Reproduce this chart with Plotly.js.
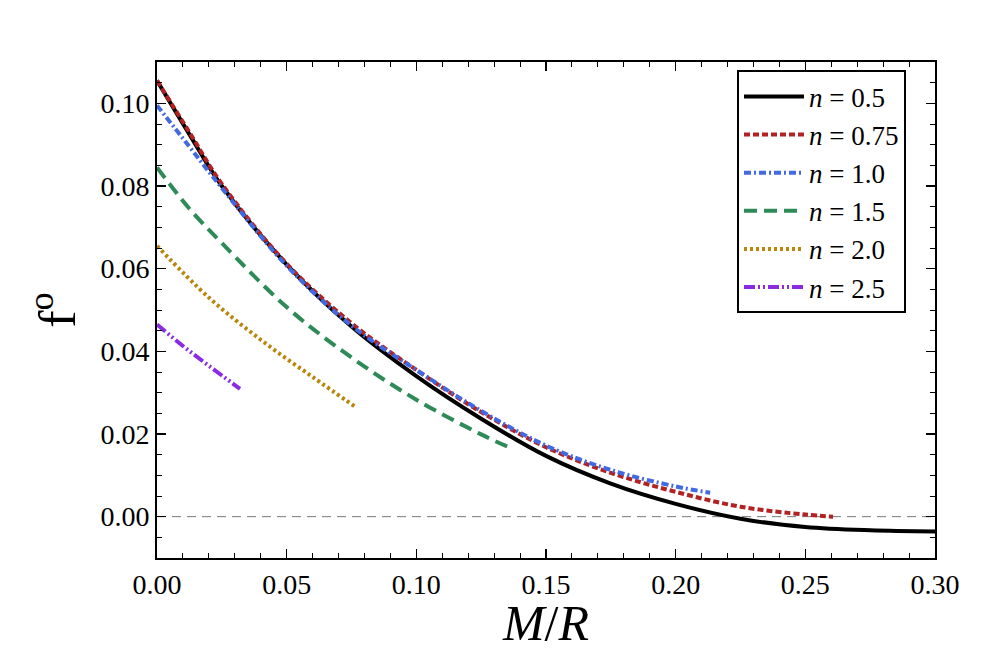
<!DOCTYPE html>
<html>
<head>
<meta charset="utf-8">
<script src="https://cdn.plot.ly/plotly-3.0.1.min.js"></script>
<style>
  html, body { margin: 0; padding: 0; background: #fff; }
  #chart { width: 1005px; height: 651px; }
</style>
</head>
<body>
<div id="chart"></div>
<script>
// Compactness M/R versus f° for several polytropic indices n
const x_n050 = [0, 0.0125, 0.025, 0.05, 0.075, 0.10, 0.125, 0.15, 0.175, 0.20, 0.225, 0.25, 0.275, 0.30];
const y_n050 = [0.1055, 0.0925, 0.0800, 0.0610, 0.0460, 0.0340, 0.0237, 0.0147, 0.0080, 0.0031, -0.0005, -0.0025, -0.0033, -0.0036];

const x_n075 = [0, 0.0125, 0.025, 0.05, 0.075, 0.10, 0.125, 0.15, 0.175, 0.20, 0.225, 0.25, 0.2607];
const y_n075 = [0.1055, 0.0930, 0.0805, 0.0612, 0.0468, 0.0355, 0.0253, 0.0168, 0.0106, 0.0060, 0.0024, 0.0005, 0.0000];

const x_n100 = [0, 0.0125, 0.025, 0.05, 0.075, 0.10, 0.125, 0.15, 0.175, 0.20, 0.2133];
const y_n100 = [0.0995, 0.0895, 0.0795, 0.0607, 0.0462, 0.0355, 0.0256, 0.0172, 0.0113, 0.0073, 0.0058];

const x_n150 = [0, 0.0125, 0.025, 0.05, 0.075, 0.10, 0.125, 0.135];
const y_n150 = [0.0845, 0.0745, 0.0662, 0.0507, 0.0385, 0.0283, 0.0199, 0.0170];

const x_n200 = [0, 0.02, 0.04, 0.06, 0.0771];
const y_n200 = [0.0655, 0.0530, 0.0428, 0.0338, 0.0263];

const x_n250 = [0, 0.01, 0.02, 0.032];
const y_n250 = [0.0465, 0.0413, 0.0365, 0.0309];

const seriesNames = ['<i>n</i> = 0.5', '<i>n</i> = 0.75', '<i>n</i> = 1.0', '<i>n</i> = 1.5', '<i>n</i> = 2.0', '<i>n</i> = 2.5'];

const xTickVals = [0, 0.05, 0.10, 0.15, 0.20, 0.25, 0.30];
const xTickText = ['0.00', '0.05', '0.10', '0.15', '0.20', '0.25', '0.30'];
const yTickVals = [0, 0.02, 0.04, 0.06, 0.08, 0.10];
const yTickText = ['0.00', '0.02', '0.04', '0.06', '0.08', '0.10'];

const styles = [
  { color: '#000000', dash: 'solid' },
  { color: '#b22222', dash: '6px,3px' },
  { color: '#4169e1', dash: '7px,3px,2px,3px' },
  { color: '#2e8b57', dash: '13px,7px' },
  { color: '#b8860b', dash: '3px,3px' },
  { color: '#8a2be2', dash: '11px,3px,2px,3px,2px,3px' }
];

const xs = [x_n050, x_n075, x_n100, x_n150, x_n200, x_n250];
const ys = [y_n050, y_n075, y_n100, y_n150, y_n200, y_n250];

const traces = xs.map((xv, i) => ({
  x: xv,
  y: ys[i],
  name: seriesNames[i],
  type: 'scatter',
  mode: 'lines',
  line: { color: styles[i].color, dash: styles[i].dash, width: 4, shape: 'spline', smoothing: 1 }
}));

const serif = 'Liberation Serif, DejaVu Serif, serif';

const axisCommon = {
  showline: true,
  linecolor: '#000',
  linewidth: 2,
  mirror: 'allticks',
  ticks: 'inside',
  ticklen: 9,
  tickwidth: 1.2,
  tickcolor: '#000',
  showgrid: false,
  zeroline: false,
  tickfont: { family: serif, size: 28, color: '#000' }
};

const layout = {
  width: 1005,
  height: 651,
  paper_bgcolor: '#fff',
  plot_bgcolor: '#fff',
  margin: { l: 157, r: 70, t: 62, b: 93 },
  showlegend: true,
  xaxis: Object.assign({}, axisCommon, {
    range: [0, 0.30],
    tickvals: xTickVals,
    ticktext: xTickText,
    minor: { dtick: 0.01, ticks: 'inside', ticklen: 5, tickwidth: 1, tickcolor: '#000' },
    title: { text: '<i>M</i>/<i>R</i>', font: { family: serif, size: 50, color: '#000' }, standoff: 4 }
  }),
  yaxis: Object.assign({}, axisCommon, {
    range: [-0.01, 0.11],
    tickvals: yTickVals,
    ticktext: yTickText,
    minor: { dtick: 0.005, ticks: 'inside', ticklen: 5, tickwidth: 1, tickcolor: '#000' },
    title: { text: 'f<sup>o</sup>', font: { family: serif, size: 52, color: '#000' }, standoff: 8 }
  }),
  legend: {
    x: 0.7455, y: 0.983, xanchor: 'left', yanchor: 'top',
    bgcolor: '#fff',
    bordercolor: '#000',
    borderwidth: 2,
    itemwidth: 60,
    font: { family: serif, size: 27, color: '#000' },
    tracegroupgap: 0
  },
  shapes: [{
    type: 'line', xref: 'paper', yref: 'y',
    x0: 0, x1: 1, y0: 0, y1: 0,
    line: { color: '#777', width: 1, dash: '9px,6px' },
    layer: 'below'
  }]
};

Plotly.newPlot('chart', traces, layout, { displayModeBar: false, staticPlot: true });
</script>
</body>
</html>
